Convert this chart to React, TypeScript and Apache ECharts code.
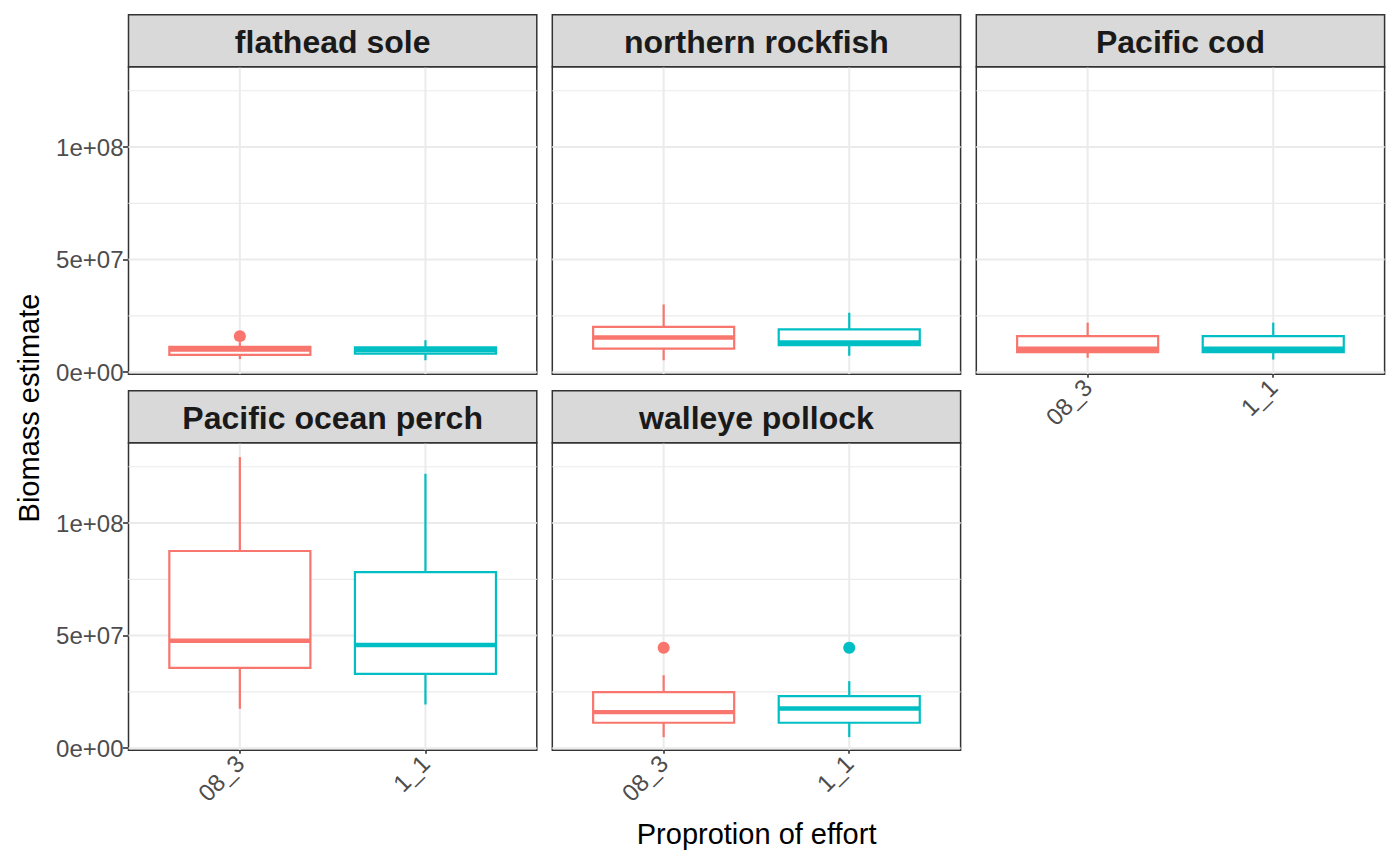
import React, { useEffect, useRef } from "react";
import * as echarts from "echarts";

// ---------- data ----------
const categories = ["08_3", "1_1"];
const categoryPositions = [1, 2];
const species = [
  "flathead sole",
  "northern rockfish",
  "Pacific cod",
  "Pacific ocean perch",
  "walleye pollock",
];
// [lower whisker, Q1, median, Q3, upper whisker]
const stats08_3 = [
  [5.8e6, 7.7e6, 1.0e7, 1.12e7, 1.33e7],
  [5.3e6, 1.05e7, 1.54e7, 2.01e7, 3.01e7],
  [6.4e6, 8.9e6, 1.04e7, 1.6e7, 2.2e7],
  [1.75e7, 3.57e7, 4.77e7, 8.76e7, 1.293e8],
  [4.9e6, 1.13e7, 1.6e7, 2.49e7, 3.24e7],
];
const stats1_1 = [
  [5.3e6, 8.2e6, 9.8e6, 1.1e7, 1.42e7],
  [7.3e6, 1.2e7, 1.32e7, 1.9e7, 2.64e7],
  [5.6e6, 8.9e6, 1.04e7, 1.6e7, 2.2e7],
  [1.94e7, 3.3e7, 4.58e7, 7.82e7, 1.219e8],
  [4.9e6, 1.13e7, 1.76e7, 2.31e7, 2.98e7],
];
const outlierSpecies = [0, 4, 4];
const outlierCategory = [0, 0, 1];
const outlierValue = [1.6e7, 4.46e7, 4.46e7];

const yTickValues = [0, 5e7, 1e8];
const yTickLabels = ["0e+00", "5e+07", "1e+08"];
const yMinorValues = [2.5e7, 7.5e7, 1.25e8];

// ---------- layout / style ----------
const colors = ["#F8766D", "#00BFC4"];
const FONT = "'Liberation Sans', Arial, Helvetica, sans-serif";
const colLeft = [128.5, 552.3, 976.3];
const panelW = 408.3;
const stripTop = [14.7, 390.7];
const stripH = 52;
const panelH = 307.5;
const panelRowCol = [
  [0, 0],
  [0, 1],
  [0, 2],
  [1, 0],
  [1, 1],
];
const showXAxis = [false, false, true, true, true];
const showYAxis = [true, false, false, true, false];
const yMin = -9e5;
const yMax = 1.357e8;
const boxWidth = 0.76;
const BOX_LW = 2.2;
const MED_LW = 4.4;

export default function App() {
  const ref = useRef<HTMLDivElement>(null);
  useEffect(() => {
    if (!ref.current) return;
    const chart = echarts.init(ref.current, null, { renderer: "svg" });

    const grids: any[] = [];
    const xAxes: any[] = [];
    const yAxes: any[] = [];
    const series: any[] = [];
    const graphics: any[] = [];

    species.forEach((name, i) => {
      const [r, c] = panelRowCol[i];
      const left = colLeft[c];
      const top = stripTop[r] + stripH;
      grids.push({
        left,
        top,
        width: panelW,
        height: panelH,
        show: true,
        borderColor: "#333333",
        borderWidth: 1.5,
        backgroundColor: "#FFFFFF",
        containLabel: false,
      });
      xAxes.push({
        type: "value",
        gridIndex: i,
        min: 0.4,
        max: 2.6,
        axisLine: { show: false },
        splitLine: { show: false },
        axisTick: {
          show: showXAxis[i],
          customValues: categoryPositions,
          length: 5.5,
          lineStyle: { color: "#333333", width: 1.6 },
        },
        axisLabel: {
          show: showXAxis[i],
          customValues: categoryPositions,
          rotate: 45,
          margin: 9,
          fontSize: 24,
          fontFamily: FONT,
          color: "#4D4D4D",
          formatter: (v: number) => categories[categoryPositions.indexOf(v)] ?? "",
        },
      });
      yAxes.push({
        type: "value",
        gridIndex: i,
        min: yMin,
        max: yMax,
        axisLine: { show: false },
        splitLine: { show: false },
        axisTick: {
          show: showYAxis[i],
          customValues: yTickValues,
          length: 5.5,
          lineStyle: { color: "#333333", width: 1.6 },
        },
        axisLabel: {
          show: showYAxis[i],
          customValues: yTickValues,
          margin: 5,
          fontSize: 24,
          fontFamily: FONT,
          color: "#4D4D4D",
          formatter: (v: number) => {
            const k = yTickValues.indexOf(v);
            return k >= 0 ? yTickLabels[k] : "";
          },
        },
      });

      // grid lines
      const gridData: any[] = [];
      yMinorValues.forEach((v) => gridData.push([0, v, 0]));
      yTickValues.forEach((v) => gridData.push([0, v, 1]));
      categoryPositions.forEach((v) => gridData.push([1, v, 1]));
      series.push({
        type: "custom",
        xAxisIndex: i,
        yAxisIndex: i,
        z: 1,
        silent: true,
        clip: true,
        data: gridData,
        encode: { x: [], y: [] },
        renderItem: (params: any, api: any) => {
          const cs = params.coordSys;
          const orient = api.value(0);
          const v = api.value(1);
          const major = api.value(2) === 1;
          const style = { stroke: "#EBEBEB", lineWidth: major ? 2 : 1.1 };
          if (orient === 0) {
            const y = api.coord([1, v])[1];
            return { type: "line", shape: { x1: cs.x, y1: y, x2: cs.x + cs.width, y2: y }, style };
          }
          const x = api.coord([v, 0])[0];
          return { type: "line", shape: { x1: x, y1: cs.y, x2: x, y2: cs.y + cs.height }, style };
        },
      });

      // boxes
      const boxData = [
        [categoryPositions[0], ...stats08_3[i], 0],
        [categoryPositions[1], ...stats1_1[i], 1],
      ];
      series.push({
        type: "custom",
        xAxisIndex: i,
        yAxisIndex: i,
        z: 3,
        silent: true,
        data: boxData,
        encode: { x: 0, y: [1, 2, 3, 4, 5] },
        renderItem: (params: any, api: any) => {
          const x = api.value(0);
          const lo = api.coord([x, api.value(1)]);
          const q1 = api.coord([x, api.value(2)]);
          const md = api.coord([x, api.value(3)]);
          const q3 = api.coord([x, api.value(4)]);
          const hi = api.coord([x, api.value(5)]);
          const w = api.size([boxWidth, 0])[0];
          const color = colors[api.value(6)];
          return {
            type: "group",
            children: [
              { type: "line", shape: { x1: lo[0], y1: lo[1], x2: q1[0], y2: q1[1] }, style: { stroke: color, lineWidth: BOX_LW } },
              { type: "line", shape: { x1: q3[0], y1: q3[1], x2: hi[0], y2: hi[1] }, style: { stroke: color, lineWidth: BOX_LW } },
              {
                type: "rect",
                shape: { x: q3[0] - w / 2, y: q3[1], width: w, height: q1[1] - q3[1] },
                style: { fill: "#FFFFFF", stroke: color, lineWidth: BOX_LW },
              },
              {
                type: "line",
                shape: { x1: md[0] - w / 2, y1: md[1], x2: md[0] + w / 2, y2: md[1] },
                style: { stroke: color, lineWidth: MED_LW },
              },
            ],
          };
        },
      });

      // outliers
      const pts: any[] = [];
      outlierSpecies.forEach((s, k) => {
        if (s === i) {
          const ci = outlierCategory[k];
          pts.push({ value: [categoryPositions[ci], outlierValue[k]], itemStyle: { color: colors[ci], opacity: 1 } });
        }
      });
      series.push({
        type: "scatter",
        xAxisIndex: i,
        yAxisIndex: i,
        z: 4,
        silent: true,
        symbol: "circle",
        symbolSize: 12,
        itemStyle: { opacity: 1 },
        data: pts,
      });

      // strip
      graphics.push({
        type: "rect",
        shape: { x: left, y: stripTop[r], width: panelW, height: stripH },
        style: { fill: "#D9D9D9", stroke: "#333333", lineWidth: 1.5 },
        z: 10,
      });
      graphics.push({
        type: "text",
        x: left + panelW / 2,
        y: stripTop[r] + stripH / 2 + 1,
        style: {
          text: name,
          align: "center",
          verticalAlign: "middle",
          fontSize: 32,
          fontWeight: "bold",
          fontFamily: FONT,
          fill: "#1A1A1A",
        },
        z: 11,
      });
    });

    graphics.push({
      type: "text",
      x: 29,
      y: 408,
      rotation: Math.PI / 2,
      style: {
        text: "Biomass estimate",
        align: "center",
        verticalAlign: "middle",
        fontSize: 29,
        fontFamily: FONT,
        fill: "#000000",
      },
    });
    graphics.push({
      type: "text",
      x: 756.6,
      y: 834,
      style: {
        text: "Proprotion of effort",
        align: "center",
        verticalAlign: "middle",
        fontSize: 29,
        fontFamily: FONT,
        fill: "#000000",
      },
    });

    chart.setOption({
      animation: false,
      backgroundColor: "#FFFFFF",
      grid: grids,
      xAxis: xAxes,
      yAxis: yAxes,
      series,
      graphic: graphics,
    });
    return () => chart.dispose();
  }, []);
  return (
    <div
      ref={ref}
      style={{ position: "absolute", left: 0, top: 0, width: 1400, height: 865 }}
    />
  );
}
